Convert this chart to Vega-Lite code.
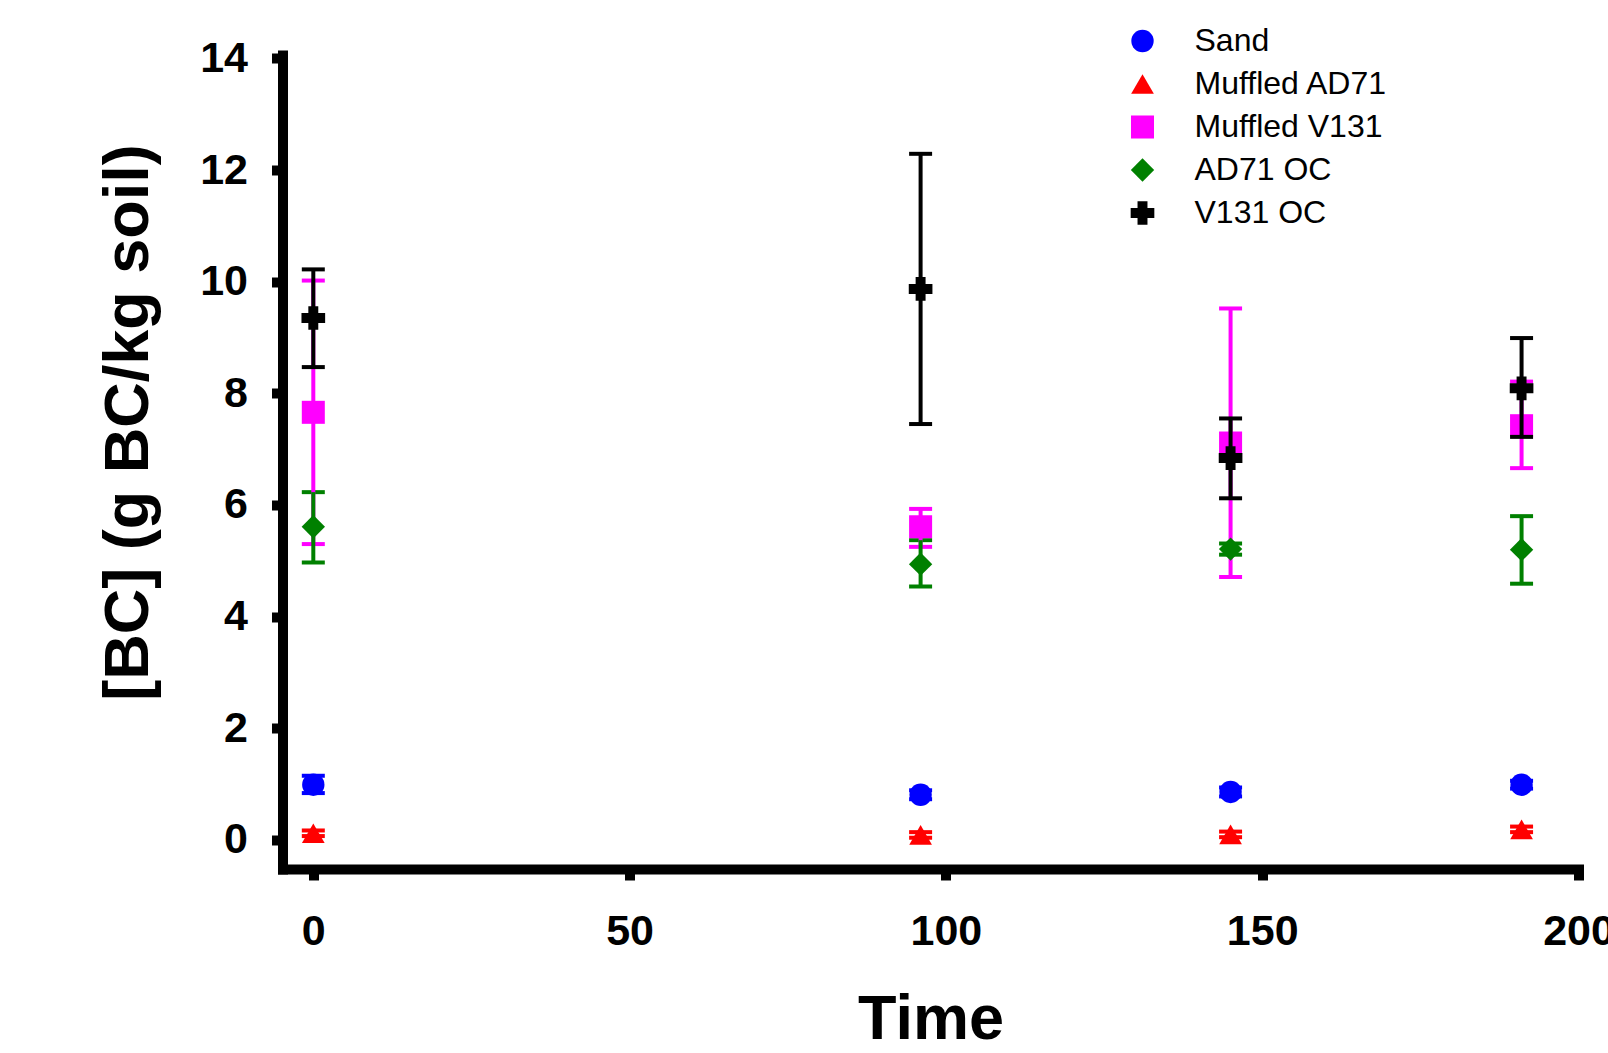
{
  "$schema": "https://vega.github.io/schema/vega-lite/v6.json",
  "width": 1296,
  "height": 814,
  "autosize": {"type": "none"},
  "padding": {"left": 282.5, "top": 55, "right": 29.5, "bottom": 184},
  "background": "white",
  "config": {
    "view": {"stroke": null},
    "font": "Liberation Sans",
    "axis": {
      "grid": false,
      "domainColor": "black",
      "domainWidth": 10,
      "domainCap": "square",
      "tickColor": "black",
      "tickWidth": 10,
      "tickSize": 11,
      "labelFont": "Liberation Sans",
      "labelFontSize": 43,
      "labelFontWeight": "bold",
      "labelColor": "black",
      "titleFont": "Liberation Sans",
      "titleFontSize": 63,
      "titleFontWeight": "bold",
      "titleColor": "black"
    },
    "axisY": {"labelPadding": 24, "titleX": -135, "titleY": 367, "titleAngle": -90, "titleAlign": "center", "titleBaseline": "alphabetic"},
    "axisX": {"labelPadding": 30, "titleX": 648, "titleY": 169, "titleAlign": "center", "titleBaseline": "alphabetic", "labelFlush": false},
    "legend": {"orient": "none", "legendX": 844, "legendY": -30, "padding": 0, "labelFont": "Liberation Sans", "labelFontSize": 32, "labelColor": "black", "labelLimit": 0, "rowPadding": 11, "labelOffset": 36, "symbolOpacity": 1, "symbolStrokeWidth": 0}
  },
  "datasets": {
    "bc": [
      {"series": "Sand", "time": 0, "mean": 0.99, "lo": 0.84, "hi": 1.15},
      {"series": "Sand", "time": 96, "mean": 0.81, "lo": 0.73, "hi": 0.89},
      {"series": "Sand", "time": 145, "mean": 0.86, "lo": 0.78, "hi": 0.94},
      {"series": "Sand", "time": 191, "mean": 0.99, "lo": 0.92, "hi": 1.06},
      {"series": "Muffled AD71", "time": 0, "mean": 0.12, "lo": 0.07, "hi": 0.17},
      {"series": "Muffled AD71", "time": 96, "mean": 0.09, "lo": 0.04, "hi": 0.14},
      {"series": "Muffled AD71", "time": 145, "mean": 0.1, "lo": 0.05, "hi": 0.15},
      {"series": "Muffled AD71", "time": 191, "mean": 0.19, "lo": 0.14, "hi": 0.24},
      {"series": "Muffled V131", "time": 0, "mean": 7.66, "lo": 5.3, "hi": 10.02},
      {"series": "Muffled V131", "time": 96, "mean": 5.61, "lo": 5.25, "hi": 5.93},
      {"series": "Muffled V131", "time": 145, "mean": 7.11, "lo": 4.71, "hi": 9.52},
      {"series": "Muffled V131", "time": 191, "mean": 7.42, "lo": 6.66, "hi": 8.21},
      {"series": "AD71 OC", "time": 0, "mean": 5.61, "lo": 4.97, "hi": 6.23},
      {"series": "AD71 OC", "time": 96, "mean": 4.94, "lo": 4.54, "hi": 5.37},
      {"series": "AD71 OC", "time": 145, "mean": 5.21, "lo": 5.11, "hi": 5.31},
      {"series": "AD71 OC", "time": 191, "mean": 5.2, "lo": 4.59, "hi": 5.8},
      {"series": "V131 OC", "time": 0, "mean": 9.35, "lo": 8.47, "hi": 10.22},
      {"series": "V131 OC", "time": 96, "mean": 9.87, "lo": 7.45, "hi": 12.29},
      {"series": "V131 OC", "time": 145, "mean": 6.84, "lo": 6.12, "hi": 7.55},
      {"series": "V131 OC", "time": 191, "mean": 8.09, "lo": 7.22, "hi": 8.99}
    ]
  },
  "data": {"name": "bc"},
  "encoding": {
    "x": {
      "field": "time",
      "type": "quantitative",
      "title": "Time",
      "scale": {"domain": [-4.87, 200], "nice": false, "zero": false},
      "axis": {"values": [0, 50, 100, 150, 200], "format": "d"}
    },
    "color": {"field": "series", "type": "nominal", "title": null, "scale": {"domain": ["Sand", "Muffled AD71", "Muffled V131", "AD71 OC", "V131 OC"], "range": ["#0000FF", "#FF0000", "#FF00FF", "#008000", "#000000"]}}
  },
  "layer": [
    {
      "mark": {"type": "point", "filled": true, "opacity": 0},
      "encoding": {
        "y": {"field": "mean", "type": "quantitative", "title": "[BC] (g BC/kg soil)", "scale": {"domain": [-0.52, 14.06], "nice": false, "zero": false}, "axis": {"values": [0, 2, 4, 6, 8, 10, 12, 14], "format": "d"}},
        "shape": {"field": "series", "type": "nominal", "title": null, "scale": {"domain": ["Sand", "Muffled AD71", "Muffled V131", "AD71 OC", "V131 OC"], "range": ["circle", "triangle-up", "square", "diamond", "M-0.42,-1H0.42V-0.42H1V0.42H0.42V1H-0.42V0.42H-1V-0.42H-0.42Z"]}},
        "size": {"field": "series", "type": "nominal", "title": null, "scale": {"domain": ["Sand", "Muffled AD71", "Muffled V131", "AD71 OC", "V131 OC"], "range": [500, 560, 450, 780, 440]}}
      }
    },
    {
      "transform": [{"filter": "datum.series !== 'V131 OC'"}],
      "mark": {"type": "errorbar", "ticks": {"opacity": 1}, "rule": {"opacity": 1}, "size": 23, "thickness": 4},
      "encoding": {
        "y": {"field": "lo", "type": "quantitative", "title": "[BC] (g BC/kg soil)", "axis": {"values": [0, 2, 4, 6, 8, 10, 12, 14], "format": "d"}},
        "y2": {"field": "hi"}
      }
    },
    {
      "transform": [{"filter": "datum.series !== 'V131 OC'"}],
      "mark": {"type": "point", "filled": true, "opacity": 1},
      "encoding": {
        "y": {"field": "mean", "type": "quantitative", "title": "[BC] (g BC/kg soil)", "axis": {"values": [0, 2, 4, 6, 8, 10, 12, 14], "format": "d"}},
        "shape": {"field": "series", "type": "nominal", "title": null},
        "size": {"field": "series", "type": "nominal", "title": null}
      }
    },
    {
      "transform": [{"filter": "datum.series === 'V131 OC'"}],
      "mark": {"type": "errorbar", "ticks": {"opacity": 1}, "rule": {"opacity": 1}, "size": 23, "thickness": 4},
      "encoding": {
        "y": {"field": "lo", "type": "quantitative", "title": "[BC] (g BC/kg soil)", "axis": {"values": [0, 2, 4, 6, 8, 10, 12, 14], "format": "d"}},
        "y2": {"field": "hi"}
      }
    },
    {
      "transform": [{"filter": "datum.series === 'V131 OC'"}],
      "mark": {"type": "point", "filled": true, "opacity": 1},
      "encoding": {
        "y": {"field": "mean", "type": "quantitative", "title": "[BC] (g BC/kg soil)", "axis": {"values": [0, 2, 4, 6, 8, 10, 12, 14], "format": "d"}},
        "shape": {"field": "series", "type": "nominal", "title": null},
        "size": {"field": "series", "type": "nominal", "title": null}
      }
    }
  ]
}
